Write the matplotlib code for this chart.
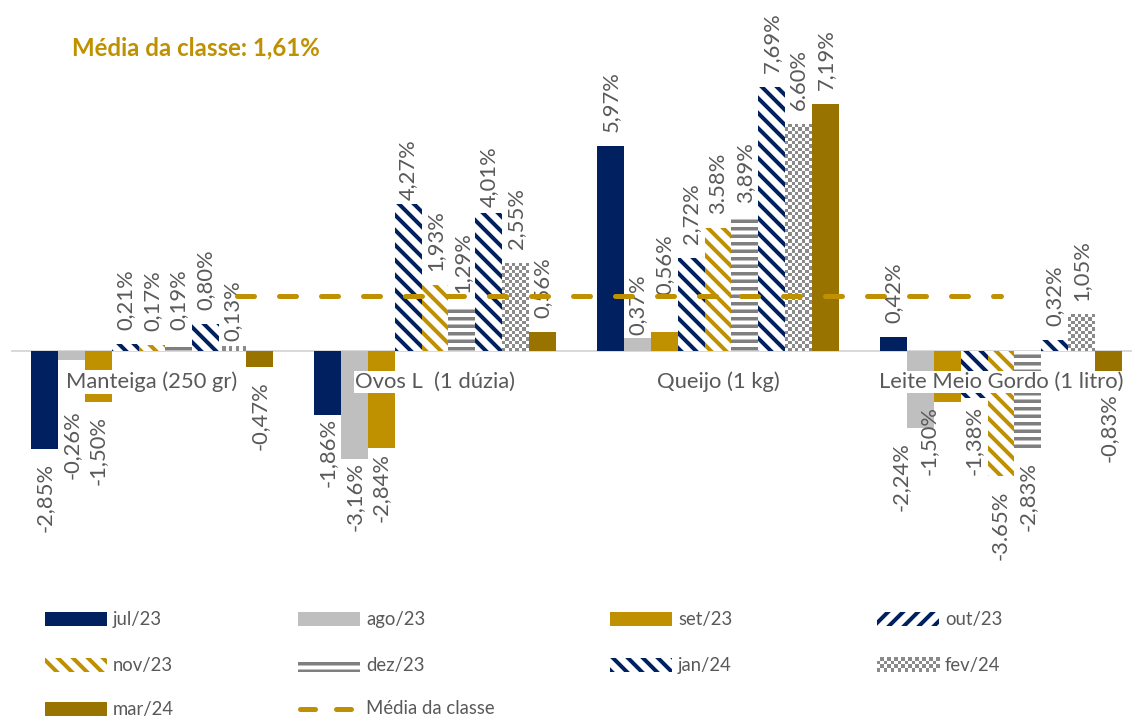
import numpy as np
import matplotlib
matplotlib.use("Agg")
import matplotlib.pyplot as plt
from matplotlib.patches import Rectangle
from matplotlib.lines import Line2D
from matplotlib.colors import ListedColormap

# ---------------- data ----------------
categories = ["Manteiga (250 gr)", "Ovos L  (1 dúzia)", "Queijo (1 kg)", "Leite Meio Gordo (1 litro)"]
series_names = ["jul/23", "ago/23", "set/23", "out/23", "nov/23", "dez/23", "jan/24", "fev/24", "mar/24"]

jul23 = [-2.85, -1.86, 5.97, 0.42]
ago23 = [-0.26, -3.16, 0.37, -2.24]
set23 = [-1.50, -2.84, 0.56, -1.50]
out23 = [0.21, 4.27, 2.72, -1.38]
nov23 = [0.17, 1.93, 3.58, -3.65]
dez23 = [0.19, 1.29, 3.89, -2.83]
jan24 = [0.80, 4.01, 7.69, 0.32]
fev24 = [0.13, 2.55, 6.60, 1.05]
mar24 = [-0.47, 0.56, 7.19, -0.83]

lab_jul23 = ["-2,85%", "-1,86%", "5,97%", "0,42%"]
lab_ago23 = ["-0,26%", "-3,16%", "0,37%", "-2,24%"]
lab_set23 = ["-1,50%", "-2,84%", "0,56%", "-1,50%"]
lab_out23 = ["0,21%", "4,27%", "2,72%", "-1,38%"]
lab_nov23 = ["0,17%", "1,93%", "3.58%", "-3.65%"]
lab_dez23 = ["0,19%", "1,29%", "3,89%", "-2,83%"]
lab_jan24 = ["0,80%", "4,01%", "7,69%", "0,32%"]
lab_fev24 = ["0,13%", "2,55%", "6.60%", "1,05%"]
lab_mar24 = ["-0,47%", "0,56%", "7,19%", "-0,83%"]

media_classe = 1.61
titulo = "Média da classe: 1,61%"
media_label = "Média da classe"

values = [jul23, ago23, set23, out23, nov23, dez23, jan24, fev24, mar24]
labels = [lab_jul23, lab_ago23, lab_set23, lab_out23, lab_nov23, lab_dez23,
          lab_jan24, lab_fev24, lab_mar24]

# ---------------- style ----------------
NAVY = "#002060"
LGRAY = "#BFBFBF"
GOLD = "#BF9000"
DGOLD = "#997300"
MGRAY = "#7F7F7F"
CHECK = "#8A8A8A"
TXT = "#595959"

# (face, hatch_color, hatch, hatch_lw_pt); "checker" = checkerboard texture
styles = [
    (NAVY, NAVY, None, 0),
    (LGRAY, LGRAY, None, 0),
    (GOLD, GOLD, None, 0),
    ("white", NAVY, "\\\\", 3.2),
    ("white", GOLD, "\\\\", 3.2),
    ("white", MGRAY, "--", 2.8),
    ("white", NAVY, "\\\\", 3.2),
    ("white", "white", "checker", 0),
    (DGOLD, DGOLD, None, 0),
]
legend_styles = list(styles)
legend_styles[3] = ("white", NAVY, "//", 3.2)

# manual nudges of individual data labels (px): (series, category) -> (dx, dy up)
label_nudge = {
    (1, 0): (0, -36), (7, 0): (0, -8),
    (0, 1): (0, 11), (1, 1): (0, 11), (2, 1): (0, 9), (3, 1): (0, -10), (6, 1): (0, -8),
    (1, 2): (0, -11), (2, 2): (0, 23),
    (1, 3): (-20, 0), (2, 3): (-18, 10), (3, 3): (0, 7),
}

W, H, DPI = 1132, 717, 90
PT = 72.0 / DPI  # points per pixel

plt.rcParams["font.family"] = ["Lato", "DejaVu Sans"]

fig = plt.figure(figsize=(W / DPI, H / DPI), dpi=DPI)
ax = fig.add_axes([0, 0, 1, 1])
ax.axis("off")

x0_px, cat_px = 152.0, 283.0
zero_px, unit_px = 351.0, 34.33
XLIM = (-x0_px / cat_px, (W - x0_px) / cat_px)
YLIM = (-(H - zero_px) / unit_px, zero_px / unit_px)

bw = 26.9 / cat_px
xc = np.arange(len(categories))
checker_cmap = ListedColormap(["white", CHECK])
CELL = 3.4  # px


def set_hlw(p, lw):
    if hasattr(p, "set_hatch_linewidth"):
        p.set_hatch_linewidth(lw)


def checker(x_left, x_right, y_a, y_b, w_px, h_px, zorder):
    cols = max(1, int(round(w_px / CELL)))
    rows = max(1, int(round(h_px / CELL)))
    arr = (np.add.outer(np.arange(rows), np.arange(cols)) % 2).astype(float)
    ax.imshow(arr, extent=(x_left, x_right, min(y_a, y_b), max(y_a, y_b)),
              cmap=checker_cmap, vmin=0, vmax=1, interpolation="nearest",
              aspect="auto", origin="upper", zorder=zorder)


for i, (vals, labs) in enumerate(zip(values, labels)):
    face, hcol, hatch, hlw = styles[i]
    xs = xc + (i - 4) * bw
    is_checker = hatch == "checker"
    with plt.rc_context({"hatch.linewidth": hlw if hlw else 1.0}):
        bars = ax.bar(xs, vals, width=bw, color=face, edgecolor=hcol,
                      linewidth=0, hatch=None if is_checker else hatch, zorder=2)
    for b in bars:
        set_hlw(b, hlw if hlw else 1.0)
        if is_checker:
            bx, by = b.get_x(), b.get_y()
            bwid, bh = b.get_width(), b.get_height()
            checker(bx, bx + bwid, by, by + bh, bwid * cat_px, abs(bh) * unit_px, 2.1)
    for j, (x, v, s) in enumerate(zip(xs, vals, labs)):
        dx, dy = label_nudge.get((i, j), (0, 0))
        off = 14 if v >= 0 else -14
        ax.annotate(s, (x, v), xytext=(dx * PT, (off + dy) * PT), textcoords="offset points",
                    rotation=90, ha="center", va="bottom" if v >= 0 else "top",
                    fontsize=22 * PT, color=TXT, zorder=4)

# zero line
ax.plot([(11 - x0_px) / cat_px, (W - x0_px) / cat_px], [0, 0],
        color="#D9D9D9", lw=2 * PT, zorder=1.5, solid_capstyle="butt")

# category labels
for x, c in zip(xc, categories):
    ax.text(x, -(382 - zero_px) / unit_px, c, ha="center", va="center",
            fontsize=22 * PT, color=TXT, zorder=3,
            bbox=dict(boxstyle="square,pad=0.06", fc="white", ec="none"))

# average line
lw_avg = 5 * PT
ax.plot([(237 - x0_px) / cat_px, (1001 - x0_px) / cat_px], [media_classe, media_classe],
        color=GOLD, lw=lw_avg, dashes=(3.4, 5.0), solid_capstyle="round",
        dash_capstyle="round", zorder=5)

# title
fig.text(72 / W, 1 - 48 / H, titulo, ha="left", va="center",
         fontsize=24 * PT, fontweight="bold", color=GOLD)

# manual legend
hx = [45, 298, 610, 877]
ry = [619, 665, 709]
hw, hh = 62, 14
entries = list(range(9)) + ["avg"]
for k, e in enumerate(entries):
    r, c = divmod(k, 4)
    x, y = hx[c], ry[r]
    if e == "avg":
        fig.add_artist(Line2D([(x + 2) / W, (x + hw - 4) / W], [1 - y / H, 1 - y / H],
                              transform=fig.transFigure, color=GOLD, lw=lw_avg,
                              dashes=(3.0, 4.2), dash_capstyle="round"))
        name = media_label
    else:
        face, hcol, hatch, hlw = legend_styles[e]
        if hatch == "checker":
            xl = (x - x0_px) / cat_px
            xr = (x + hw - x0_px) / cat_px
            yt = (zero_px - (y - hh / 2)) / unit_px
            yb = (zero_px - (y + hh / 2)) / unit_px
            checker(xl, xr, yb, yt, hw, hh, 6)
        else:
            with plt.rc_context({"hatch.linewidth": hlw if hlw else 1.0}):
                rect = Rectangle((x / W, 1 - (y + hh / 2) / H), hw / W, hh / H,
                                 transform=fig.transFigure, facecolor=face,
                                 edgecolor=hcol, linewidth=0, hatch=hatch)
            set_hlw(rect, hlw if hlw else 1.0)
            fig.add_artist(rect)
        name = series_names[e]
    fig.text((x + hw + 6) / W, 1 - y / H, name, ha="left", va="center",
             fontsize=18.5 * PT, color=TXT)

ax.set_xlim(*XLIM)
ax.set_ylim(*YLIM)

fig.savefig("out.png", dpi=DPI)
